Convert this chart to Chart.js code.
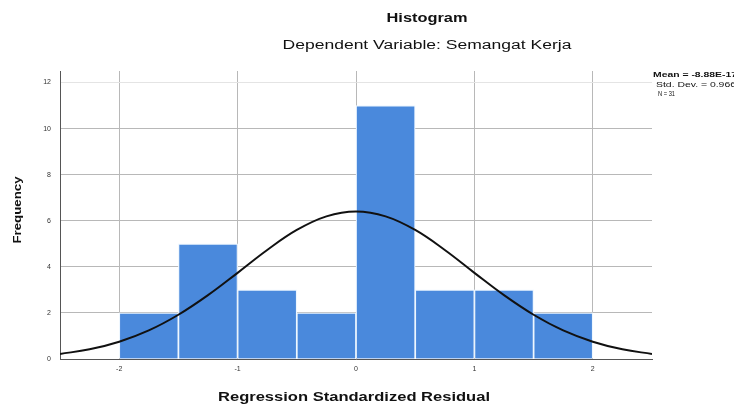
<!DOCTYPE html>
<html>
<head>
<meta charset="utf-8">
<script src="https://cdn.jsdelivr.net/npm/chart.js@4.4.1/dist/chart.umd.min.js"></script>
<style>
  html,body{margin:0;padding:0;background:#fff;}
  #c{display:block;}
</style>
</head>
<body>
<canvas id="c" width="734" height="405"></canvas>
<script>
// ---- data ----
const binCenters = [-1.75, -1.25, -0.75, -0.25, 0.25, 0.75, 1.25, 1.75];
const binCounts  = [2, 5, 3, 2, 11, 3, 3, 2];
const curveX = [-2.5,-2.25,-2,-1.75,-1.5,-1.25,-1,-0.75,-0.5,-0.25,0,0.25,0.5,0.75,1,1.25,1.5,1.75,2,2.25,2.5];
const curveY = [0.22,0.42,0.75,1.24,1.92,2.77,3.74,4.73,5.6,6.19,6.4,6.19,5.6,4.73,3.74,2.77,1.92,1.24,0.75,0.42,0.22];
const xTicks = [-2, -1, 0, 1, 2];
const yTicks = [0, 2, 4, 6, 8, 10, 12];
const titleText = "Histogram";
const subtitleText = "Dependent Variable: Semangat Kerja";
const xTitle = "Regression Standardized Residual";
const yTitle = "Frequency";
const statsLines = ["Mean = -8.88E-17", "Std. Dev. = 0.966", "N = 31"];

function drawFit(ctx, text, cx, cy, font, target, align) {
  ctx.save();
  ctx.font = font;
  ctx.textBaseline = 'middle';
  const w = ctx.measureText(text).width;
  const sx = target / w;
  ctx.translate(cx, cy);
  ctx.scale(sx, 1);
  ctx.textAlign = align || 'center';
  ctx.fillText(text, 0, 0);
  ctx.restore();
}

const textPlugin = {
  id: 'texts',
  afterDraw(chart) {
    const ctx = chart.ctx;
    ctx.save();
    ctx.fillStyle = '#111';
    drawFit(ctx, titleText, 427, 19, 'bold 12px "Liberation Sans", Arial, sans-serif', 81);
    drawFit(ctx, subtitleText, 427, 46, '12px "Liberation Sans", Arial, sans-serif', 289);
    drawFit(ctx, xTitle, 354, 397, 'bold 13px "Liberation Sans", Arial, sans-serif', 272);
    ctx.save();
    ctx.translate(18, 210);
    ctx.rotate(-Math.PI / 2);
    drawFit(ctx, yTitle, 0, 0, 'bold 11px "Liberation Sans", Arial, sans-serif', 67);
    ctx.restore();
    const sy = [75, 85, 94];
    const sxs = [653, 656, 658];
    const sw = [84, 80, 17];
    statsLines.forEach((t, i) => {
      drawFit(ctx, t, sxs[i], sy[i], (i === 0 ? 'bold ' : '') + '7px "Liberation Sans", Arial, sans-serif', sw[i], 'left');
    });
    ctx.restore();
  }
};

new Chart(document.getElementById('c'), {
  type: 'bar',
  data: {
    datasets: [
      {
        type: 'line',
        data: curveX.map((x, i) => ({x: x, y: curveY[i]})),
        borderColor: '#111',
        borderWidth: 2,
        pointRadius: 0,
        tension: 0.4,
        fill: false,
        order: 0
      },
      {
        type: 'bar',
        data: binCenters.map((x, i) => ({x: x, y: binCounts[i]})),
        backgroundColor: '#4a89dc',
        borderColor: '#eef7ff',
        borderWidth: 1.2,
        barPercentage: 1,
        categoryPercentage: 1,
        order: 1
      }
    ]
  },
  options: {
    responsive: false,
    animation: false,
    devicePixelRatio: 1,
    layout: {padding: {left: 0, right: 82, top: 71, bottom: 0}},
    plugins: {legend: {display: false}, tooltip: {enabled: false}},
    scales: {
      x: {
        type: 'linear',
        min: -2.5, max: 2.5,
        offset: false,
        afterBuildTicks(s) { s.ticks = xTicks.map(v => ({value: v})); },
        ticks: {font: {size: 7, family: '"Liberation Sans", Arial'}, color: '#333', padding: 6,
                callback: v => String(v)},
        grid: {drawTicks: false, offset: false, color: '#b8b8b8'},
        border: {color: '#555'},
        afterFit(s) { s.height = 46; }
      },
      y: {
        min: 0, max: 12.5,
        afterBuildTicks(s) { s.ticks = yTicks.map(v => ({value: v})); },
        ticks: {font: {size: 7, family: '"Liberation Sans", Arial'}, color: '#333', padding: 9},
        grid: {drawTicks: false, color: (c) => c.tick && c.tick.value === 12 ? '#e4e4e4' : '#b8b8b8'},
        border: {color: '#555'},
        afterFit(s) { s.width = 60; }
      }
    }
  },
  plugins: [textPlugin]
});
</script>
</body>
</html>
